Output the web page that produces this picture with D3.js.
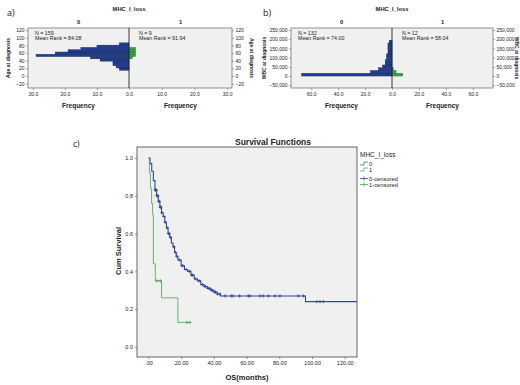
<!DOCTYPE html>
<html>
<head>
<meta charset="utf-8">
<script src="https://cdn.jsdelivr.net/npm/d3@7"></script>
<style>
  body { margin: 0; background: #fff; }
  svg { display: block; }
  text { font-family: "Liberation Sans", Arial, sans-serif; fill: #222; }
</style>
</head>
<body>
<div id="chart"></div>
<script>
// ---- panel a: age at diagnosis by MHC_I_loss ----
const ageBinStart = [15, 21, 27, 33, 39, 45, 51, 57, 63, 69, 75, 81];
const ageBinWidth = 6;
const ageCount0 = [3, 4, 5, 5, 9, 12, 29, 23, 19, 15, 10, 3];
const ageCount1 = [0, 0, 0, 0, 0, 1, 2, 2, 2, 2, 0, 0];
const ageTicks = [-20, 0, 20, 40, 60, 80, 100, 120];
const ageFreqTicks = [0, 10, 20, 30];
const ageStats = [["N = 159", "Mean Rank = 84.08"], ["N = 9", "Mean Rank = 91.94"]];

// ---- panel b: WBC at diagnosis by MHC_I_loss ----
const wbcBinStart = [0, 15000, 30000, 45000, 60000, 75000, 90000, 105000, 120000, 135000, 150000, 165000, 180000];
const wbcBinWidth = 15000;
const wbcCount0 = [67, 16, 10, 7, 5, 5, 4, 4, 3, 3, 3, 3, 2];
const wbcCount1 = [8, 3, 1, 0, 0, 0, 0, 0, 0, 0, 0, 0, 0];
const wbcTicks = [-50000, 0, 50000, 100000, 150000, 200000, 250000];
const wbcFreqTicks = [0, 20, 40, 60];
const wbcStats = [["N = 132", "Mean Rank = 74.00"], ["N = 12", "Mean Rank = 58.04"]];

// ---- panel c: Kaplan-Meier survival ----
const kmTime0 = [0, 1, 2, 3, 4, 5, 6, 7, 8, 9, 10, 11, 12, 13, 14, 15, 16, 17, 18, 20, 22, 24, 26, 28, 30, 32, 34, 36, 38, 40, 42, 44, 96];
const kmSurv0 = [1.0, 0.97, 0.93, 0.88, 0.83, 0.80, 0.77, 0.74, 0.71, 0.69, 0.66, 0.63, 0.60, 0.58, 0.55, 0.53, 0.50, 0.48, 0.46, 0.43, 0.41, 0.40, 0.38, 0.36, 0.35, 0.33, 0.32, 0.31, 0.30, 0.29, 0.28, 0.27, 0.24];
const kmCensor0 = [4.2, 4.5, 4.8, 5.2, 5.5, 5.7, 6.3, 6.7, 7.2, 7.5, 8.2, 9.5, 10.2, 11.5, 12.2, 12.7, 13.5, 15.5, 16.5, 17.3, 19, 20.5, 21, 23, 25, 26.5, 27, 29, 31, 33, 34.5, 35, 36.5, 37.2, 38.5, 39.2, 40.5, 41, 42.3, 43.7,
  46.8, 50.8, 51.7, 55.7, 61, 62.1, 68.2, 70.2, 73.3, 77.4, 80.4, 91.6, 94.7, 102.9, 104.9, 106.9];
const kmTime1 = [0, 0.6, 1.2, 1.9, 2.5, 3.0, 4.2, 8.0, 18.0];
const kmSurv1 = [1.0, 0.92, 0.84, 0.76, 0.70, 0.44, 0.35, 0.26, 0.13];
const kmCensor1 = [5.2, 7.3, 23.5, 25.3];
const kmEnd = [127.5, 25.3];
const osTicks = [0, 20, 40, 60, 80, 100, 120];
const survTicks = [0, 0.2, 0.4, 0.6, 0.8, 1.0];
const groupNames = ["0", "1"];

const W = 520, H = 385;
const BLUE = "#243f8c", BLUE_EDGE = "#0f1f55", GREEN = "#3b9e48", GREEN_EDGE = "#1f6b2a";
const BG = "#f0f0f0", FRAME = "#777";

const svg = d3.select("#chart").append("svg").attr("width", W).attr("height", H);

function fmtComma(v) { return d3.format(",")(v); }

// back-to-back histogram panel (SPSS independent-samples style)
function histPanel(o) {
  const g = svg.append("g");
  const { x0, x1, xm, y0, y1 } = o.box;

  const xl = d3.scaleLinear().domain([0, o.fmax]).range([xm, x0]);
  const xr = d3.scaleLinear().domain([0, o.fmax]).range([xm, x1]);
  const y = d3.scaleLinear().domain(o.ydom).range([y1, y0]);

  g.append("rect").attr("x", x0).attr("y", y0).attr("width", x1 - x0).attr("height", y1 - y0)
    .attr("fill", BG).attr("stroke", FRAME).attr("stroke-width", 0.8);

  const bins = o.starts.map((s, i) => ({ s, e: s + o.width, c0: o.counts0[i], c1: o.counts1[i] }));

  g.selectAll("rect.b0").data(bins.filter(d => d.c0 > 0)).join("rect").attr("class", "b0")
    .attr("x", d => xl(d.c0)).attr("width", d => xm - xl(d.c0))
    .attr("y", d => y(d.e)).attr("height", d => y(d.s) - y(d.e))
    .attr("fill", BLUE).attr("stroke", BLUE_EDGE).attr("stroke-width", 0.4);

  g.selectAll("rect.b1").data(bins.filter(d => d.c1 > 0)).join("rect").attr("class", "b1")
    .attr("x", xm).attr("width", d => xr(d.c1) - xm)
    .attr("y", d => y(d.e)).attr("height", d => y(d.s) - y(d.e))
    .attr("fill", GREEN).attr("stroke", GREEN_EDGE).attr("stroke-width", 0.4);

  g.append("line").attr("x1", xm).attr("x2", xm).attr("y1", y0).attr("y2", y1)
    .attr("stroke", "#222").attr("stroke-width", 0.9);

  // axes
  const fs = "5px";
  const axL = g.append("g").attr("transform", `translate(${x0},0)`)
    .call(d3.axisLeft(y).tickValues(o.yticks).tickSize(2).tickPadding(1.5).tickFormat(o.yfmt));
  const axR = g.append("g").attr("transform", `translate(${x1},0)`)
    .call(d3.axisRight(y).tickValues(o.yticks).tickSize(2).tickPadding(1.5).tickFormat(o.yfmt));
  const axBL = g.append("g").attr("transform", `translate(0,${y1})`)
    .call(d3.axisBottom(xl).tickValues(o.fticks).tickSize(2).tickPadding(2).tickFormat(d3.format(".1f")));
  const axBR = g.append("g").attr("transform", `translate(0,${y1})`)
    .call(d3.axisBottom(xr).tickValues(o.fticks.filter(v => v > 0)).tickSize(2).tickPadding(2).tickFormat(d3.format(".1f")));
  [axL, axR, axBL, axBR].forEach(a => {
    a.select(".domain").remove();
    a.selectAll("line").attr("stroke", "#555").attr("stroke-width", 0.5);
    a.selectAll("text").style("font-size", fs).attr("fill", "#333");
  });

  // stats text
  o.stats.forEach((lines, k) => {
    const tx = k === 0 ? x0 + 7 : xm + 10;
    lines.forEach((t, j) => {
      g.append("text").attr("x", tx).attr("y", y0 + 7 + j * 5).style("font-size", "5.3px").text(t);
    });
  });

  // titles
  const cl = (x0 + xm) / 2, cr = (xm + x1) / 2;
  g.append("text").attr("x", xm).attr("y", 10.5).attr("text-anchor", "middle")
    .style("font-size", "5.8px").style("font-weight", "bold").text("MHC_I_loss");
  g.append("text").attr("x", cl).attr("y", 24).attr("text-anchor", "middle")
    .style("font-size", "5.8px").style("font-weight", "bold").text(groupNames[0]);
  g.append("text").attr("x", cr).attr("y", 24).attr("text-anchor", "middle")
    .style("font-size", "5.8px").style("font-weight", "bold").text(groupNames[1]);
  [cl, cr].forEach(cx => {
    g.append("text").attr("x", cx).attr("y", 107.5).attr("text-anchor", "middle")
      .style("font-size", "6.5px").style("font-weight", "bold").text("Frequency");
  });
  const ym = (y0 + y1) / 2;
  g.append("text").attr("transform", `translate(${o.ylabL},${ym}) rotate(-90)`).attr("text-anchor", "middle")
    .style("font-size", "5px").style("font-weight", "bold").text(o.ylabel);
  g.append("text").attr("transform", `translate(${o.ylabR},${ym}) rotate(90)`).attr("text-anchor", "middle")
    .style("font-size", "5px").style("font-weight", "bold").text(o.ylabel);

  g.append("text").attr("x", o.tag[0]).attr("y", o.tag[1])
    .style("font-family", "'Open Sans', sans-serif").style("font-size", "9px").text(o.tagText);
}

histPanel({
  box: { x0: 28, x1: 232, xm: 129, y0: 28, y1: 88 },
  fmax: 31.5, ydom: [-31.5, 126],
  starts: ageBinStart, width: ageBinWidth, counts0: ageCount0, counts1: ageCount1,
  yticks: ageTicks, yfmt: d3.format("d"), fticks: ageFreqTicks,
  stats: ageStats, ylabel: "Age at diagnosis", ylabL: 10, ylabR: 250,
  tag: [7, 16], tagText: "a)"
});

histPanel({
  box: { x0: 291, x1: 493, xm: 392, y0: 28, y1: 88 },
  fmax: 75, ydom: [-65000, 261000],
  starts: wbcBinStart, width: wbcBinWidth, counts0: wbcCount0, counts1: wbcCount1,
  yticks: wbcTicks, yfmt: fmtComma, fticks: wbcFreqTicks,
  stats: wbcStats, ylabel: "WBC at diagnosis", ylabL: 266, ylabR: 515,
  tag: [263, 16], tagText: "b)"
});

// ---- survival chart ----
const cg = svg.append("g");
const cx = d3.scaleLinear().domain([-7, 127.5]).range([137, 357]);
const cy = d3.scaleLinear().domain([-0.053, 1.058]).range([357, 147]);

cg.append("rect").attr("x", cx.range()[0]).attr("y", cy.range()[1])
  .attr("width", cx.range()[1] - cx.range()[0]).attr("height", cy.range()[0] - cy.range()[1])
  .attr("fill", BG).attr("stroke", "#444").attr("stroke-width", 0.8);

const axX = cg.append("g").attr("transform", `translate(0,${cy.range()[0]})`)
  .call(d3.axisBottom(cx).tickValues(osTicks).tickSize(2).tickPadding(2)
    .tickFormat(v => v === 0 ? ".00" : v.toFixed(2)));
const axY = cg.append("g").attr("transform", `translate(${cx.range()[0]},0)`)
  .call(d3.axisLeft(cy).tickValues(survTicks).tickSize(2).tickPadding(2).tickFormat(d3.format(".1f")));
[axX, axY].forEach(a => {
  a.select(".domain").remove();
  a.selectAll("line").attr("stroke", "#444").attr("stroke-width", 0.6);
  a.selectAll("text").style("font-size", "5.5px").attr("fill", "#333");
});

function survAt(times, surv, t) {
  let s = surv[0];
  for (let i = 0; i < times.length; i++) if (times[i] <= t) s = surv[i];
  return s;
}

const stepLine = d3.line().x(d => cx(d[0])).y(d => cy(d[1])).curve(d3.curveStepAfter);
const curves = [
  { times: kmTime0, surv: kmSurv0, cens: kmCensor0, end: kmEnd[0], color: "#34479a", w: 1.1 },
  { times: kmTime1, surv: kmSurv1, cens: kmCensor1, end: kmEnd[1], color: "#45a651", w: 0.8 }
];
curves.forEach(c => {
  const pts = c.times.map((t, i) => [t, c.surv[i]]);
  pts.push([c.end, c.surv[c.surv.length - 1]]);
  cg.append("path").datum(pts).attr("d", stepLine)
    .attr("fill", "none").attr("stroke", c.color).attr("stroke-width", c.w);
  cg.selectAll(null).data(c.cens).join("path")
    .attr("transform", t => `translate(${cx(t)},${cy(survAt(c.times, c.surv, t))})`)
    .attr("d", "M-1.6,0H1.6M0,-1.6V1.6")
    .attr("stroke", c.color).attr("stroke-width", 0.8);
});

cg.append("text").attr("x", 273).attr("y", 145).attr("text-anchor", "middle")
  .style("font-size", "8.5px").style("font-weight", "bold").text("Survival Functions");
cg.append("text").attr("x", 247).attr("y", 380).attr("text-anchor", "middle")
  .style("font-size", "7.5px").style("font-weight", "bold").text("OS(months)");
cg.append("text").attr("transform", "translate(121,251) rotate(-90)").attr("text-anchor", "middle")
  .style("font-size", "7.5px").style("font-weight", "bold").text("Cum Survival");
cg.append("text").attr("x", 73).attr("y", 147)
  .style("font-family", "'Open Sans', sans-serif").style("font-size", "8.5px").text("c)");

// legend
const lg = cg.append("g").attr("transform", "translate(360,0)");
lg.append("text").attr("x", 0).attr("y", 157).style("font-size", "6.5px").text("MHC_I_loss");
const legendItems = [
  { label: groupNames[0], color: curves[0].color, cens: false, y: 163.5 },
  { label: groupNames[1], color: curves[1].color, cens: false, y: 169.5 },
  { label: groupNames[0] + "-censored", color: curves[0].color, cens: true, y: 178.5 },
  { label: groupNames[1] + "-censored", color: curves[1].color, cens: true, y: 184.5 }
];
legendItems.forEach(d => {
  if (d.cens) {
    lg.append("path").attr("d", `M0,${d.y}H8M4,${d.y - 2}V${d.y + 2}`)
      .attr("stroke", d.color).attr("stroke-width", 0.8).attr("fill", "none");
  } else {
    lg.append("path").attr("d", `M0,${d.y + 1.5}H4V${d.y - 1.5}H8`)
      .attr("stroke", d.color).attr("stroke-width", 0.7).attr("fill", "none");
  }
  lg.append("text").attr("x", 9).attr("y", d.y + 2).style("font-size", "5.8px").text(d.label);
});
</script>
</body>
</html>
